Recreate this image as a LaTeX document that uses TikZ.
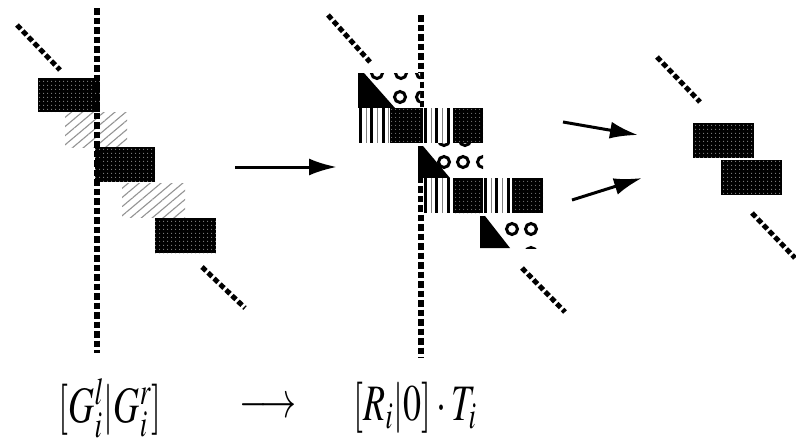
\documentclass[tikz,border=0pt]{standalone}
\usepackage{mathptmx}
\usetikzlibrary{patterns,patterns.meta,arrows.meta}
\tikzset{
  vline/.style={line width=5.5pt, dash pattern=on 6.5pt off 3pt},
  diag/.style={line width=5pt, dash pattern=on 5.5pt off 2.8pt},
  bigarrow/.style={line width=3pt, -{Latex[length=28pt,width=17pt]}},
  ring/.style={draw=black, line width=3pt, fill=white},
  lbl/.style={font=\fontsize{36}{40}\selectfont, yscale=1.42, inner sep=0pt},
}
\newcommand\dblk[4]{%
  \fill[black] (#1,#2) rectangle (#3,#4);
  \fill[pattern={Dots[distance=4pt,radius=0.6pt]}, pattern color=gray!55] (#1,#2) rectangle (#3,#4);}
\newcommand\hblk[4]{%
  \fill[pattern={Lines[angle=40,distance=7pt,line width=1.1pt]}, pattern color=gray!85] (#1,#2) rectangle (#3,#4);}
\newcommand\sblk[2]{%
  \fill[white] (#1,#2) rectangle (#1+32,#2+35);
  \foreach \d in {2.5,13.5,25.5} \fill[black] (#1+\d-1.6,#2) rectangle (#1+\d+1.6,#2+35);
  \foreach \d in {8,19.5,30} \draw[gray, line width=0.7pt] (#1+\d,#2) -- (#1+\d,#2+35);}
\begin{document}
\begin{tikzpicture}[x=1pt,y=-1pt]
\useasboundingbox[fill=white] (0,0) rectangle (796,437);

% ---------- left panel ----------
\dblk{38}{78}{100}{112}
\hblk{65}{112}{127}{147}
\dblk{95}{147}{155}{182}
\hblk{122}{183}{185}{217}
\dblk{155}{218}{216}{253}
\draw[vline] (97,8) -- (97,353);
\coordinate (la1) at (17,25); \coordinate (la2) at (60,70);
\coordinate (lb1) at (202,267); \coordinate (lb2) at (245,308);
\draw[diag] (la1) -- (la2);
\draw[diag] (lb1) -- (lb2);

% main arrow
\coordinate (m1) at (235,167); \coordinate (m2) at (337,167);
\draw[bigarrow] (m1) -- (m2);

% ---------- middle panel ----------
\draw[vline] (421,15) -- (421,358);
% block A
\begin{scope}
  \clip (358,73) rectangle (420,108);
  \fill[white] (358,73) rectangle (420,108);
  \foreach \cx/\cy in {377/73,401/73,422/73,400/97,422/97} \draw[ring] (\cx,\cy) circle (5.5pt);
  \fill[black] (358,73) -- (364,73) -- (395,108) -- (358,108) -- cycle;
\end{scope}
% row 2
\sblk{358}{108}
\dblk{390}{108}{423}{143}
\sblk{423}{108}
\dblk{453}{108}{483}{143}
% block B
\begin{scope}
  \clip (418,143) rectangle (483,178);
  \fill[white] (418,143) rectangle (483,178);
  \foreach \cx/\cy in {444/140,465/140,444/162,463/162,483/162} \draw[ring] (\cx,\cy) circle (5.5pt);
  \fill[black] (418,146) -- (423,146) -- (450,178) -- (418,178) -- cycle;
\end{scope}
% row 4
\sblk{423}{178}
\dblk{453}{178}{485}{213}
\sblk{483}{178}
\dblk{512}{178}{543}{213}
% block C
\begin{scope}
  \clip (480,213) rectangle (543,248);
  \fill[white] (480,213) rectangle (543,248);
  \foreach \cx/\cy in {512/229,531/229,531/253} \draw[ring] (\cx,\cy) circle (5.5pt);
  \fill[black] (480,216) -- (485,216) -- (510,248) -- (480,248) -- cycle;
\end{scope}
\coordinate (ma1) at (328,15); \coordinate (ma2) at (370,62);
\coordinate (mb1) at (522,268); \coordinate (mb2) at (565,312);
\draw[diag] (ma1) -- (ma2);
\draw[diag] (mb1) -- (mb2);

% ---------- right panel ----------
\coordinate (r1a) at (563,122); \coordinate (r1b) at (638,135);
\coordinate (r2a) at (572,200); \coordinate (r2b) at (642,178);
\draw[bigarrow] (r1a) -- (r1b);
\draw[bigarrow] (r2a) -- (r2b);
\dblk{693}{123}{754}{158}
\dblk{721}{160}{782}{195}
\coordinate (ra1) at (657,57); \coordinate (ra2) at (700,102);
\coordinate (rb1) at (752,213); \coordinate (rb2) at (795,258);
\draw[diag] (ra1) -- (ra2);
\draw[diag] (rb1) -- (rb2);

% ---------- labels ----------
\node[lbl] (g) at (110,408) {$[G_i^l|G_i^r]$};
\node[lbl] (to) at (268,408) {$\longrightarrow$};
\node[lbl] (r) at (415,408) {$[R_i|0]\cdot T_i$};
\end{tikzpicture}
\end{document}
